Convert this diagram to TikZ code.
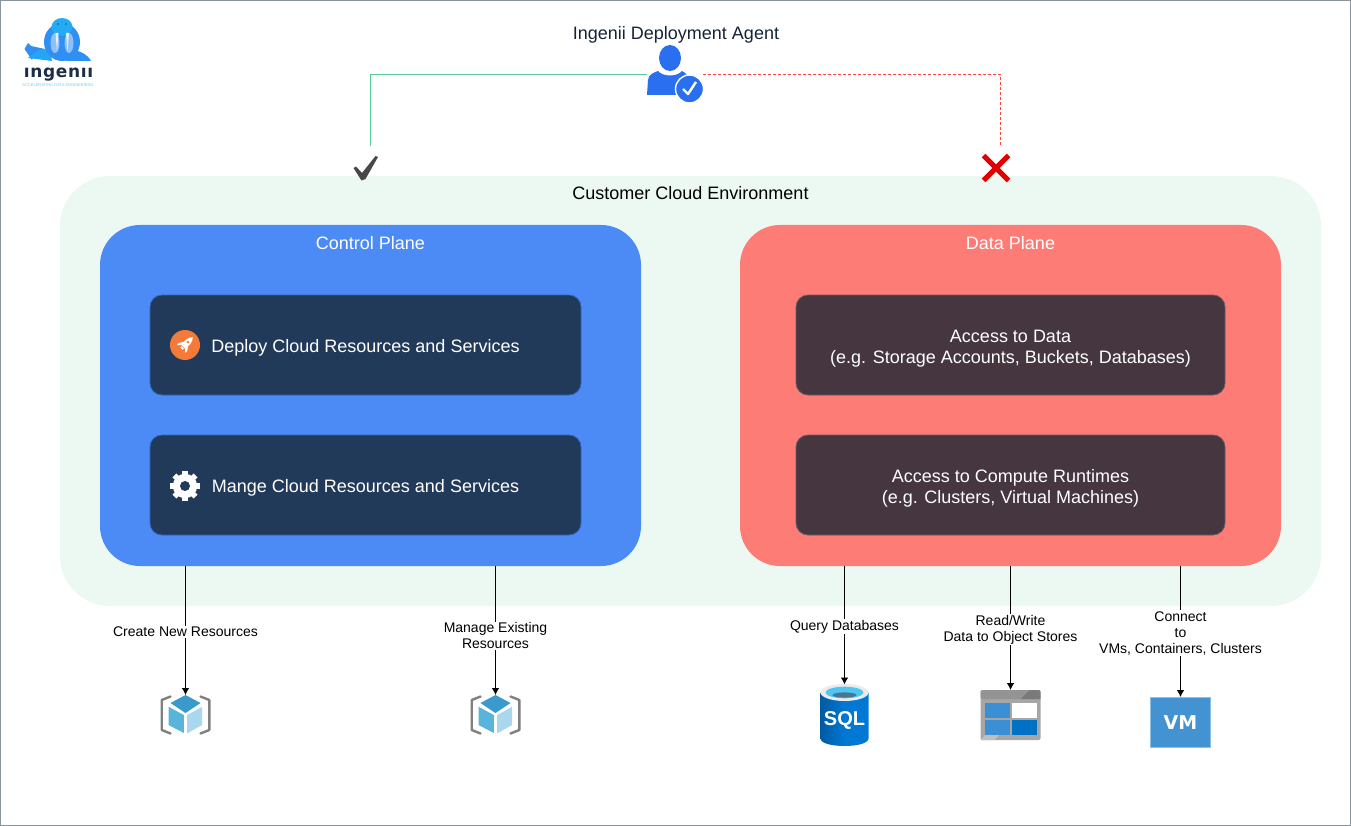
\documentclass[tikz,border=0pt]{standalone}
\usepackage{fontspec}
\setmainfont{Liberation Sans}
\newfontfamily\logofont{DejaVu Sans}
\usepackage{xcolor}
\usetikzlibrary{arrows,arrows.meta,calc,positioning}
\definecolor{framegray}{HTML}{8A969E}
\definecolor{envgreen}{HTML}{ECF9F3}
\definecolor{controlblue}{HTML}{4C8BF5}
\definecolor{datared}{HTML}{FD7C75}
\definecolor{navybox}{HTML}{223A5A}
\definecolor{navyedge}{HTML}{2F62B8}
\definecolor{plumbox}{HTML}{453640}
\definecolor{plumedge}{HTML}{6E5A62}
\definecolor{agentblue}{HTML}{2A6FF0}
\definecolor{cubedark}{HTML}{3A9ACB}
\definecolor{cubemid}{HTML}{59B4D9}
\definecolor{cubelight}{HTML}{A9D8EE}
\definecolor{vmblue}{HTML}{4393D3}
\definecolor{walrus}{HTML}{2F8FF2}
\definecolor{rocketorange}{HTML}{F47A3A}
\definecolor{allowgreen}{HTML}{55CC99}
\definecolor{denyred}{HTML}{FF4444}
\definecolor{storeblue}{HTML}{3B8FD4}
\definecolor{storedeep}{HTML}{0072C6}
\definecolor{sqldeep}{HTML}{005BA1}
\definecolor{sqlblue}{HTML}{0078D4}
\tikzstyle{envbox} = [fill=envgreen, rounded corners=50pt, minimum width=1261pt, minimum height=430pt, inner sep=0pt]
\tikzstyle{planebox} = [rounded corners=40pt, minimum width=541pt, minimum height=341pt, inner sep=0pt]
\tikzstyle{darkbox} = [rounded corners=12pt, minimum height=100pt, inner sep=0pt, line width=0.8pt]
\tikzstyle{boxtext} = [text=white, align=center, font=\fontsize{18}{21}\selectfont, yshift=-3.2pt]
\tikzstyle{titletext} = [font=\fontsize{18}{20}\selectfont]
\tikzstyle{iconspot} = [inner sep=0pt, outer sep=0pt]
\tikzstyle{conn} = [black, line width=0.9pt, -{Latex[length=7pt,width=7.5pt]}]
\tikzstyle{edgelabel} = [fill=white, align=center, inner sep=1pt, font=\fontsize{14}{16}\selectfont, yshift=-1.5pt]
\tikzset{
  cubeicon/.pic={
    \draw[line width=2.4pt, line cap=round, line join=round, color=black!50] (-15,-18.5) -- (-23.8,-15) -- (-23.8,15) -- (-15,18.5);
    \draw[line width=2.4pt, line cap=round, line join=round, color=black!50] (15,-18.5) -- (23.8,-15) -- (23.8,15) -- (15,18.5);
    \fill[cubedark] (0,-20) -- (15,-12) -- (0,-2) -- (-15,-12) -- cycle;
    \fill[cubemid] (-17,-8.3) -- (-1.7,0) -- (-1.7,18) -- (-17,10) -- cycle;
    \fill[cubelight] (1.7,0) -- (16.7,-8.3) -- (16.7,10) -- (1.7,18.3) -- cycle;
  },
  sqlicon/.pic={
    \path[left color=sqldeep, right color=sqlblue, middle color=sqlblue]
      (-24,-23) -- (-24,23) .. controls (-24,33) and (24,33) .. (24,23) -- (24,-23) -- cycle;
    \fill[black!8] (0,-23) ellipse [x radius=24, y radius=8.5];
    \fill[cyan!70!white] (0,-23) ellipse [x radius=19, y radius=5.8];
    \fill[cyan!50!black] (0,-20.5) ellipse [x radius=12, y radius=2.6];
    \node[text=white, font=\bfseries\fontsize{20}{20}\selectfont] (sqltext) at (0,5) {SQL};
  },
  storeicon/.pic={
    \fill[black!35, rounded corners=1.5pt] (-30,-25) rectangle (30,25);
    \fill[black!42, rounded corners=1.5pt] (-30,-25) rectangle (30,-16);
    \fill[black!52] (10,-16) -- (19,-25) -- (29,-25) -- (30,-16) -- cycle;
    \fill[black!25] (-30,25) -- (-18,12) -- (-4,12) -- (-16,25) -- cycle;
    \fill[storeblue] (-25.3,-11.7) rectangle (-0.7,3);
    \fill[white] (1.3,-11.7) rectangle (26,3);
    \fill[storeblue] (-25.3,5) rectangle (-0.7,20);
    \fill[storedeep] (1.3,5) rectangle (26,20);
  },
  vmicon/.pic={
    \draw[vmblue!60!white, fill=vmblue, line width=1pt] (-30,-25) rectangle (30,25);
    \node[text=white, font=\logofont\bfseries\fontsize{19}{19}\selectfont] (vmtext) at (0,1) {VM};
  },
  agenticon/.pic={
    \fill[agentblue] (-5,-16) ellipse [x radius=11, y radius=13];
    \fill[agentblue] (-28,21) -- (-27,6) .. controls (-26,0) and (-22,-1) .. (-17,-3)
      .. controls (-12,3) and (2,3) .. (7,-3) .. controls (11,-1) and (13,1) .. (14,10) -- (14,21) -- cycle;
    \fill[agentblue, draw=white, line width=1.4pt] (14.5,15) circle (14);
    \draw[white, line width=2.4pt, line join=round] (8,15) -- (13,20) -- (21,8);
  },
  rocketicon/.pic={
    \fill[rocketorange] (0,0) circle (15);
    \begin{scope}[rotate=-45]
      \fill[white] (0,-11) .. controls (3.4,-7.5) and (3.6,-3) .. (2.7,2.5) -- (-2.7,2.5) .. controls (-3.6,-3) and (-3.4,-7.5) .. (0,-11) -- cycle;
      \fill[white] (-2.6,-2) -- (-6,3) -- (-5.5,5.5) -- (-2.5,2.5) -- cycle;
      \fill[white] (2.6,-2) -- (6,3) -- (5.5,5.5) -- (2.5,2.5) -- cycle;
      \fill[white] (-1.6,3.2) rectangle (1.6,5);
      \fill[rocketorange] (0,-4) circle (1.4);
    \end{scope}
  },
  gearicon/.pic={
    \foreach \a in {0,45,...,315}{
      \fill[white, rotate=\a] (-2.8,-15) rectangle (2.8,-8);
    }
    \fill[white] (0,0) circle (12.2);
    \fill[navybox] (0,0) circle (5);
  },
  logoicon/.pic={
    \fill[walrus] (24.5,49) -- (28,43) -- (31,46) -- (45,49) .. controls (40,54) and (34,53) .. (32,60) -- cycle;
    \fill[walrus] (70,50) .. controls (80,50) and (88,55) .. (91,61) -- (66,61) -- cycle;
    \fill[walrus!80!cyan] (28,58) .. controls (36,50) and (44,48) .. (50,50) -- (52,61) -- cycle;
    \fill[walrus] (62,42) ellipse [x radius=18, y radius=19];
    \fill[walrus!75!cyan] (62,27) ellipse [x radius=10.5, y radius=9];
    \fill[walrus!55!white] (55,43) ellipse [x radius=4.5, y radius=10];
    \fill[walrus!55!white] (69,43) ellipse [x radius=4.5, y radius=10];
    \fill[black!8] (55.5,33) -- (58.5,33) -- (57,52) -- cycle;
    \fill[black!8] (66,33) -- (69,33) -- (67.5,52) -- cycle;
    \fill[black] (58,24) circle (0.6);
    \fill[black] (66,24) circle (0.6);
    \node[text=navybox!80!black, font=\logofont\bfseries\fontsize{17}{17}\selectfont] (logotext) at (58.5,75) {\addfontfeature{LetterSpace=4}ıngenıı};
    \node[text=cyan!60!white, font=\fontsize{4}{4}\selectfont] (logotag) at (58,85) {ACCELERATING DATA ENGINEERING};
  }
}
\begin{document}
\begin{tikzpicture}[x=1pt,y=-1pt]
\useasboundingbox (0,0) rectangle (1351,826);
\draw[framegray, line width=1pt] (0.5,0.5) rectangle (1350.5,825.5);
\pic at (0,0) {logoicon};

\node [envbox] (env) at (690.5,391) {};
\node [titletext, below=7pt] at (env.north) {Customer Cloud Environment};

\node [planebox, fill=controlblue] (control) at (370.5,395.5) {};
\node [titletext, text=white, below=8.5pt] at (control.north) {Control Plane};
\node [planebox, fill=datared] (data) at (1010.5,395.5) {};
\node [titletext, text=white, below=8.5pt] at (data.north) {Data Plane};

\node [darkbox, fill=navybox, draw=navyedge, minimum width=431pt] (deploy) at (365.5,345) {};
\node [darkbox, fill=navybox, draw=navyedge, minimum width=431pt] (manage) at (365.5,485) {};
\node [darkbox, fill=plumbox, draw=plumedge, minimum width=429pt] (access) at (1010.5,345) {};
\node [darkbox, fill=plumbox, draw=plumedge, minimum width=429pt] (compute) at (1010.5,485) {};
\node [boxtext] at (deploy) {Deploy Cloud Resources and Services};
\node [boxtext] at (manage) {Mange Cloud Resources and Services};
\node [boxtext, yshift=-.8pt] at (access) {Access to Data\\(e.g. Storage Accounts, Buckets, Databases)};
\node [boxtext] at (compute) {Access to Compute Runtimes\\(e.g. Clusters, Virtual Machines)};
\pic at (185,345) {rocketicon};
\pic at (185,486) {gearicon};

\node [iconspot, minimum width=56pt, minimum height=50pt] (agent) at (675,74.5) {};
\pic at (675,74) {agenticon};
\node [titletext, text=navybox!60!black] (agentname) at (676,34.5) {Ingenii Deployment Agent};
\coordinate (allowend) at (370.5,146);
\coordinate (denyend) at (1000.5,146);
\draw [draw=allowgreen, line width=1pt] (agent.west) -| (allowend);
\draw [draw=denyred, line width=1pt, dash pattern=on 3pt off 2pt] (agent.east) -| (denyend);
\node [iconspot, minimum width=26pt, minimum height=24pt] (allowmark) at (366,168) {};
\fill [black!72, line join=round] (353.5,168) -- (356,166.5) -- (362,173) -- (375.5,156) -- (378,157) -- (365.5,179) -- (361.5,180.5) -- cycle;
\node [iconspot, minimum width=25pt, minimum height=25pt] (denymark) at (996,168) {};
\draw [red!90!black, line width=5pt] (denymark.north west) -- (denymark.south east);
\draw [red!90!black, line width=5pt] (denymark.north east) -- (denymark.south west);

\node [iconspot, minimum width=50pt, minimum height=40pt] (newcube) at (185.5,715) {};
\node [iconspot, minimum width=50pt, minimum height=40pt] (oldcube) at (495.5,715) {};
\node [iconspot, minimum width=48pt, minimum height=62pt] (sqldb) at (844.5,715.5) {};
\node [iconspot, minimum width=60pt, minimum height=50pt] (store) at (1010.5,715) {};
\node [iconspot, minimum width=60pt, minimum height=50pt] (vmbox) at (1180.5,722) {};
\pic at (newcube) {cubeicon};
\pic at (oldcube) {cubeicon};
\pic at (sqldb) {sqlicon};
\pic at (store) {storeicon};
\pic at (vmbox) {vmicon};

\draw [conn] (control.south -| newcube.north) -- node [edgelabel] {Create New Resources} (newcube.north);
\draw [conn] (control.south -| oldcube.north) -- node [edgelabel, pos=.54, yshift=1.5pt] {Manage Existing\\Resources} (oldcube.north);
\draw [conn] (data.south -| sqldb.north) -- node [edgelabel] {Query Databases} (sqldb.north);
\draw [conn] (data.south -| store.north) -- node [edgelabel] {Read/Write\\Data to Object Stores} (store.north);
\draw [conn] (data.south -| vmbox.north) -- node [edgelabel] {Connect\\to\\VMs, Containers, Clusters} (vmbox.north);
\end{tikzpicture}
\end{document}
